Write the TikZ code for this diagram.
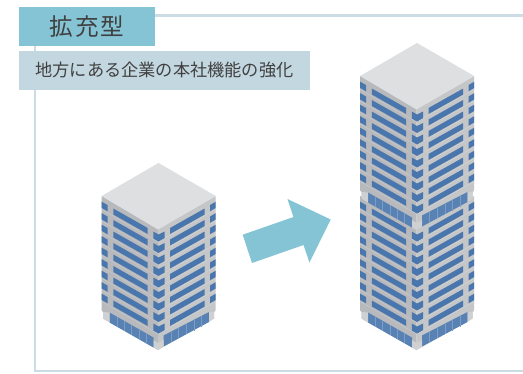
\documentclass[tikz,border=0pt]{standalone}
\usepackage{fontspec}
\newfontfamily\cjk{Noto Sans CJK JP}
\newfontfamily\cjkwide[LetterSpace=9]{Noto Sans CJK JP}
\definecolor{frameC}{HTML}{CBDCE4}
\definecolor{titleC}{HTML}{85C4D4}
\definecolor{subC}{HTML}{C3D7E0}
\definecolor{topC}{HTML}{DEDFE1}
\definecolor{leftC}{HTML}{B7B9BC}
\definecolor{rightC}{HTML}{C4C6C8}
\definecolor{lineL}{HTML}{C6C7CA}
\definecolor{lineR}{HTML}{D0D1D3}
\definecolor{winC}{HTML}{4A76AE}
\definecolor{pilC}{HTML}{CFD0D2}
\definecolor{txtC}{HTML}{404040}
\tikzset{
 win/.style={fill=winC},
 lob/.style={fill=winC!92!white},
 mull/.style={draw=winC!72!white,line width=.45pt},
 fl/.style={line width=.6pt},
}
\newcommand{\block}[2]{%
 \begin{scope}[shift={(#1,#2)}]
  \fill[leftC] (101.7,196) -- (158,229) -- (158,350) -- (103,318.5) -- (103,312) -- (101.7,310.5) -- cycle;
  \fill[rightC] (215.7,196) -- (158,229) -- (158,350) -- (214,318.5) -- (214,312) -- (215.7,310.5) -- cycle;
  \foreach \i in {0,...,8}{
   \pgfmathsetmacro{\d}{11.5*\i}
   \draw[fl,lineL] (101.7,209.5+\d) -- (158,242+\d);
   \draw[fl,lineR] (158,242+\d) -- (215.7,209.5+\d);
   \fill[win] (101.7,201.7+\d) -- (107.5,205+\d) -- (107.5,211.3+\d) -- (101.7,208+\d) -- cycle;
   \fill[win] (215.7,201.7+\d) -- (210,205+\d) -- (210,211.3+\d) -- (215.7,208+\d) -- cycle;
   \fill[win] (113.3,208.5+\d) -- (147.7,228+\d) -- (147.7,234+\d) -- (113.3,214.5+\d) -- cycle;
   \fill[win] (170,228+\d) -- (204.7,208.5+\d) -- (204.7,214.5+\d) -- (170,234+\d) -- cycle;
   \fill[win] (153.3,231.5+\d) -- (158.5,234.5+\d) -- (164.7,231.5+\d) -- (164.7,238+\d) -- (158.5,241.5+\d) -- (153.3,238.5+\d) -- cycle;
  }
  % lobby
  \fill[lob] (109.5,312.5) -- (153.5,337.5) -- (153.5,347.5) -- (109.5,322.5) -- cycle;
  \fill[lob] (163.5,335.5) -- (209,312) -- (209,322) -- (163.5,346.5) -- cycle;
  \foreach \t in {1,...,5}{
   \pgfmathsetmacro{\xa}{109.5+\t*7.33}
   \pgfmathsetmacro{\ya}{312.5+\t*4.17}
   \draw[mull] (\xa,\ya) -- (\xa,\ya+10);
   \pgfmathsetmacro{\xb}{163.5+\t*7.58}
   \pgfmathsetmacro{\yb}{335.5-\t*3.92}
   \draw[mull] (\xb,\yb) -- (\xb,\yb+10.7);
  }
  \fill[pilC] (153.5,340) -- (158,343) -- (163.5,340) -- (163.5,346.7) -- (158,350) -- (153.5,347.5) -- cycle;
  \fill[pilC] (103,312) -- (109.5,312.5) -- (109.5,322.5) -- (103,318.5) -- cycle;
  \fill[pilC] (214,312) -- (209,312) -- (209,322) -- (214,318.5) -- cycle;
 \end{scope}}
\begin{document}
\begin{tikzpicture}[x=1pt,y=-1pt]
\useasboundingbox (0,0) rectangle (523,373);
\fill[white] (0,0) rectangle (523,373);
\draw[frameC,line width=2.6pt] (523,15.3) -- (35,15.3) -- (35,371) -- (523,371);
\node[fill=titleC,minimum width=136pt,minimum height=39pt,inner sep=0pt,text=txtC] (title) at (87,26.5) {\fontsize{23.6}{24}\selectfont\cjkwide 拡充型};
\node[fill=subC,minimum width=291pt,minimum height=39pt,inner sep=0pt,text=txtC] (sub) at (164.5,70.5) {\fontsize{17.2}{18}\selectfont\cjk 地方にある企業の本社機能の強化};
% left building
\block{0}{0}
\fill[topC] (158.5,163) -- (215.7,196) -- (158,229.5) -- (101.7,196) -- cycle;
% arrow
\fill[titleC] (242.7,234.7) -- (293.5,217) -- (287.5,199) -- (330.7,219.5) -- (309.5,262.5) -- (303.5,245) -- (252,263) -- cycle;
% tower
\block{258.5}{0}
\block{258.5}{-120}
\fill[topC] (417,43) -- (474.2,76) -- (416.5,109.5) -- (360.2,76) -- cycle;
\end{tikzpicture}
\end{document}
